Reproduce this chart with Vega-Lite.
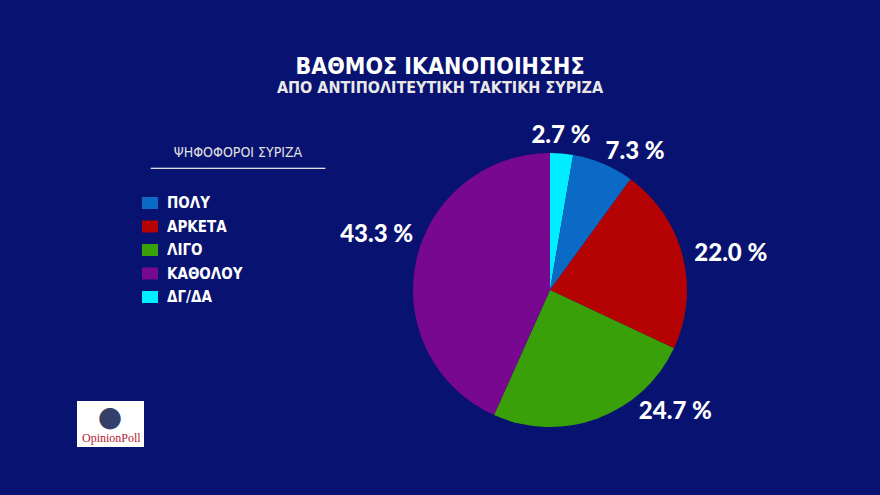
{
  "$schema": "https://vega.github.io/schema/vega-lite/v6.json",
  "width": 300,
  "height": 300,
  "autosize": {"type": "none"},
  "padding": {"left": 400, "top": 140, "right": 180, "bottom": 55},
  "background": "#081270",
  "title": {
    "text": "ΒΑΘΜΟΣ ΙΚΑΝΟΠΟΙΗΣΗΣ",
    "subtitle": "ΑΠΟ ΑΝΤΙΠΟΛΙΤΕΥΤΙΚΗ ΤΑΚΤΙΚΗ ΣΥΡΙΖΑ",
    "anchor": "middle",
    "dx": -110,
    "dy": 59,
    "offset": 44,
    "color": "white",
    "font": "DejaVu Sans Condensed",
    "fontSize": 23,
    "fontWeight": "bold",
    "subtitleColor": "#e8e8e8",
    "subtitleFont": "DejaVu Sans Condensed",
    "subtitleFontSize": 16,
    "subtitleFontWeight": "bold",
    "subtitlePadding": 1
  },
  "data": {
    "values": [
      {"cat": "ΔΓ/ΔΑ", "v": 2.7, "k": 1, "lbl": "2.7 %"},
      {"cat": "ΠΟΛΥ", "v": 7.3, "k": 2, "lbl": "7.3 %"},
      {"cat": "ΑΡΚΕΤΑ", "v": 22.0, "k": 3, "lbl": "22.0 %"},
      {"cat": "ΛΙΓΟ", "v": 24.7, "k": 4, "lbl": "24.7 %"},
      {"cat": "ΚΑΘΟΛΟΥ", "v": 43.3, "k": 5, "lbl": "43.3 %"}
    ]
  },
  "layer": [
    {
      "mark": {"type": "arc", "outerRadius": 137, "strokeWidth": 0},
      "encoding": {
        "theta": {"field": "v", "type": "quantitative", "stack": true},
        "order": {"field": "k", "type": "quantitative"},
        "color": {
          "field": "cat",
          "type": "nominal",
          "scale": {
            "domain": ["ΠΟΛΥ", "ΑΡΚΕΤΑ", "ΛΙΓΟ", "ΚΑΘΟΛΟΥ", "ΔΓ/ΔΑ"],
            "range": ["#0a6ac6", "#b50202", "#3aa00a", "#78088f", "#00eeff"]
          },
          "legend": {
            "orient": "none",
            "legendX": -258,
            "legendY": 6,
            "title": ["ΨΗΦΟΦΟΡΟΙ ΣΥΡΙΖΑ", "───────────────────────"],
            "titleColor": "#e0e0e0",
            "titleFont": "DejaVu Sans Condensed",
            "titleFontSize": 14,
            "titleFontWeight": "normal",
            "titleLineHeight": 16,
            "titleLimit": 400,
            "titleAnchor": "middle",
            "titleAlign": "center",
            "titlePadding": 19,
            "labelColor": "white",
            "labelFont": "DejaVu Sans Condensed",
            "labelFontSize": 15,
            "labelFontWeight": "bold",
            "labelOffset": 9,
            "symbolType": "M-1,-0.75H1V0.75H-1Z",
            "symbolSize": 256,
            "symbolStrokeWidth": 0,
            "symbolOpacity": 1,
            "rowPadding": 7.5,
            "encode": {"title": {"update": {"dx": {"value": 46}}}}
          }
        }
      }
    },
    {
      "mark": {"type": "text", "radius": 165, "dx": -3, "dy": 10, "font": "Lato", "fontWeight": 900, "fontSize": 24, "fill": "white"},
      "encoding": {
        "theta": {"field": "v", "type": "quantitative", "stack": true},
        "order": {"field": "k", "type": "quantitative"},
        "text": {"condition": {"test": "datum.cat === 'ΔΓ/ΔΑ'", "field": "lbl"}, "value": ""}
      }
    },
    {
      "mark": {"type": "text", "radius": 165, "dx": 21, "dy": 14, "font": "Lato", "fontWeight": 900, "fontSize": 24, "fill": "white"},
      "encoding": {
        "theta": {"field": "v", "type": "quantitative", "stack": true},
        "order": {"field": "k", "type": "quantitative"},
        "text": {"condition": {"test": "datum.cat === 'ΠΟΛΥ'", "field": "lbl"}, "value": ""}
      }
    },
    {
      "mark": {"type": "text", "radius": 165, "dx": 21, "dy": 5, "font": "Lato", "fontWeight": 900, "fontSize": 24, "fill": "white"},
      "encoding": {
        "theta": {"field": "v", "type": "quantitative", "stack": true},
        "order": {"field": "k", "type": "quantitative"},
        "text": {"condition": {"test": "datum.cat === 'ΑΡΚΕΤΑ'", "field": "lbl"}, "value": ""}
      }
    },
    {
      "mark": {"type": "text", "radius": 165, "dx": 68, "dy": -33, "font": "Lato", "fontWeight": 900, "fontSize": 24, "fill": "white"},
      "encoding": {
        "theta": {"field": "v", "type": "quantitative", "stack": true},
        "order": {"field": "k", "type": "quantitative"},
        "text": {"condition": {"test": "datum.cat === 'ΛΙΓΟ'", "field": "lbl"}, "value": ""}
      }
    },
    {
      "mark": {"type": "text", "radius": 165, "dx": -12, "dy": -21, "font": "Lato", "fontWeight": 900, "fontSize": 24, "fill": "white"},
      "encoding": {
        "theta": {"field": "v", "type": "quantitative", "stack": true},
        "order": {"field": "k", "type": "quantitative"},
        "text": {"condition": {"test": "datum.cat === 'ΚΑΘΟΛΟΥ'", "field": "lbl"}, "value": ""}
      }
    },
    {
      "mark": {"type": "point", "opacity": 0},
      "encoding": {
        "shape": {
          "datum": "OpinionPoll",
          "legend": {
            "orient": "none",
            "legendX": -323,
            "legendY": 261,
            "title": "●",
            "titleColor": "#34406a",
            "titleFontSize": 28,
            "titleFont": "DejaVu Sans",
            "titleAnchor": "middle",
            "titleAlign": "center",
            "titlePadding": 0,
            "titleLineHeight": 24,
            "fillColor": "white",
            "padding": 3,
            "labelFont": "Liberation Serif",
            "labelFontSize": 12,
            "labelColor": "#b52030",
            "labelOffset": -10,
            "symbolSize": 1,
            "symbolOpacity": 0
          }
        }
      }
    }
  ],
  "config": {"view": {"stroke": null}}
}
